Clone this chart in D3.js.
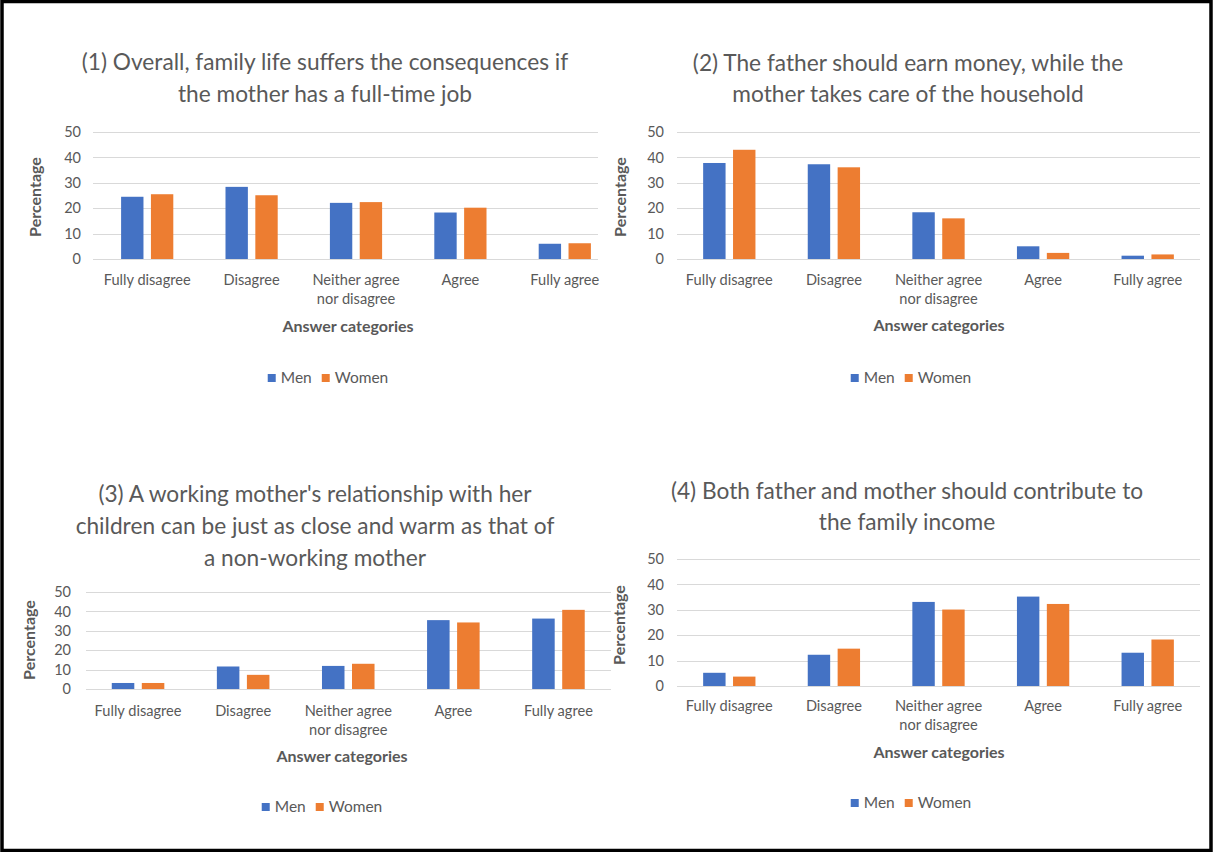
<!DOCTYPE html>
<html>
<head>
<meta charset="utf-8">
<script src="https://cdn.jsdelivr.net/npm/d3@7"></script>
<style>
  html, body { margin: 0; padding: 0; background: #fff; }
  svg { display: block; }
  text { font-family: Lato, "Liberation Sans", sans-serif; fill: #595959; }
</style>
</head>
<body>
<svg id="chart" width="1213" height="852"></svg>
<script>
// ---------- DATA ----------
const categories = ["Fully disagree", "Disagree", "Neither agree nor disagree", "Agree", "Fully agree"];
const seriesNames = ["Men", "Women"];
const yTicks = [0, 10, 20, 30, 40, 50];

const titles = [
  ["(1) Overall, family life suffers the consequences if", "the mother has a full-time job"],
  ["(2) The father should earn money, while the", "mother takes care of the household"],
  ["(3) A working mother's relationship with her", "children can be just as close and warm as that of", "a non-working mother"],
  ["(4) Both father and mother should contribute to", "the family income"]
];

const men1   = [24.5, 28.4, 22.1, 18.3, 6.0];
const women1 = [25.5, 25.1, 22.4, 20.2, 6.2];
const men2   = [37.8, 37.3, 18.4, 5.0, 1.3];
const women2 = [43.0, 36.1, 16.0, 2.4, 1.8];
const men3   = [3.1, 11.6, 11.9, 35.5, 36.3];
const women3 = [3.1, 7.3, 13.0, 34.3, 40.8];
const men4   = [5.2, 12.3, 33.1, 35.2, 13.1];
const women4 = [3.7, 14.7, 30.1, 32.3, 18.3];

const yTitle = "Percentage";
const xTitle = "Answer categories";

// ---------- STYLE / LAYOUT ----------
const colors = { Men: "#4472C4", Women: "#ED7D31" };
const gridColor = "#D9D9D9";

const layouts = [
  { tx: 325, tl: [62, 94], bx: [95, 617], gx: [93, 598], y: [259, 132], tickX: 81, pct: [35, 197], catY: 280, at: [348, 326], lg: [328, 378] },
  { tx: 908, tl: [63, 94], bx: [677, 1200], gx: [677, 1200], y: [259, 132], tickX: 664, pct: [620, 197], catY: 280, at: [939, 325], lg: [911, 378] },
  { tx: 315, tl: [494, 526, 558], bx: [85.5, 611], gx: [86, 611], y: [689, 592], tickX: 71, pct: [29, 640], catY: 711, at: [342, 756], lg: [322, 807] },
  { tx: 907, tl: [491, 522], bx: [677, 1200], gx: [677, 1200], y: [686, 559], tickX: 664, pct: [619, 625], catY: 706, at: [939, 752], lg: [911, 803] }
];

const panelData = [
  [men1, women1], [men2, women2], [men3, women3], [men4, women4]
];

const svg = d3.select("#chart");

// border
svg.append("rect")
  .attr("x", 2).attr("y", 1.5).attr("width", 1209).attr("height", 849)
  .attr("fill", "none").attr("stroke", "#000").attr("stroke-width", 3.5);

function wrapLabel(label) {
  const i = label.indexOf(" nor ");
  return i >= 0 ? [label.slice(0, i), label.slice(i + 1)] : [label];
}

layouts.forEach((L, p) => {
  const g = svg.append("g");
  const [menVals, womenVals] = panelData[p];

  // title
  titles[p].forEach((line, i) => {
    g.append("text")
      .attr("x", L.tx).attr("y", L.tl[i]).attr("dy", "0.35em")
      .attr("text-anchor", "middle")
      .style("font-size", "22.7px")
      .text(line);
  });

  const x0 = d3.scaleBand().domain(categories).range(L.bx).padding(0);
  const x1 = d3.scaleBand().domain(seriesNames)
    .range([x0.bandwidth() * 0.25, x0.bandwidth() * 0.75])
    .paddingInner(0.25).paddingOuter(0);
  const y = d3.scaleLinear().domain([0, 50]).range(L.y);

  // gridlines
  g.append("g").selectAll("line").data(yTicks).join("line")
    .attr("x1", L.gx[0]).attr("x2", L.gx[1])
    .attr("y1", d => Math.round(y(d)) + 0.5).attr("y2", d => Math.round(y(d)) + 0.5)
    .attr("stroke", gridColor).attr("stroke-width", 1);

  // y axis tick labels
  const yAxis = d3.axisLeft(y).tickValues(yTicks).tickSize(0).tickPadding(0);
  const ya = g.append("g").attr("transform", `translate(${L.tickX},0)`).call(yAxis);
  ya.select(".domain").remove();
  ya.selectAll("text").style("font-size", "14.5px").style("font-family", "Lato, sans-serif").attr("fill", "#595959");

  // bars
  const rows = categories.map((c, i) => ({ cat: c, values: [
    { s: "Men", v: menVals[i] }, { s: "Women", v: womenVals[i] }
  ]}));
  const cg = g.append("g").selectAll("g").data(rows).join("g")
    .attr("transform", d => `translate(${x0(d.cat)},0)`);
  cg.selectAll("rect").data(d => d.values).join("rect")
    .attr("x", d => x1(d.s))
    .attr("width", x1.bandwidth())
    .attr("y", d => y(d.v))
    .attr("height", d => y(0) - y(d.v))
    .attr("fill", d => colors[d.s]);

  // category labels
  categories.forEach(c => {
    const lines = wrapLabel(c);
    lines.forEach((ln, i) => {
      g.append("text")
        .attr("x", x0(c) + x0.bandwidth() / 2)
        .attr("y", L.catY + i * 19).attr("dy", "0.35em")
        .attr("text-anchor", "middle")
        .style("font-size", "14.6px")
        .text(ln);
    });
  });

  // axis titles
  g.append("text")
    .attr("transform", `translate(${L.pct[0]},${L.pct[1]}) rotate(-90)`)
    .attr("dy", "0.35em").attr("text-anchor", "middle")
    .style("font-size", "16px").style("font-weight", "bold")
    .text(yTitle);
  g.append("text")
    .attr("x", L.at[0]).attr("y", L.at[1]).attr("dy", "0.35em")
    .attr("text-anchor", "middle")
    .style("font-size", "16px").style("font-weight", "bold")
    .text(xTitle);

  // legend
  const lg = g.append("g");
  let cx = 0;
  seriesNames.forEach((s, i) => {
    const it = lg.append("g").attr("transform", `translate(${cx},0)`);
    it.append("rect").attr("x", 0).attr("y", -4).attr("width", 8).attr("height", 8).attr("fill", colors[s]);
    const t = it.append("text").attr("x", 13).attr("y", 0).attr("dy", "0.35em")
      .style("font-size", "15.5px").text(s);
    const w = t.node().getComputedTextLength();
    cx += 13 + w + 10;
  });
  const totalW = cx - 10;
  lg.attr("transform", `translate(${L.lg[0] - totalW / 2},${L.lg[1]})`);
});
</script>
</body>
</html>
